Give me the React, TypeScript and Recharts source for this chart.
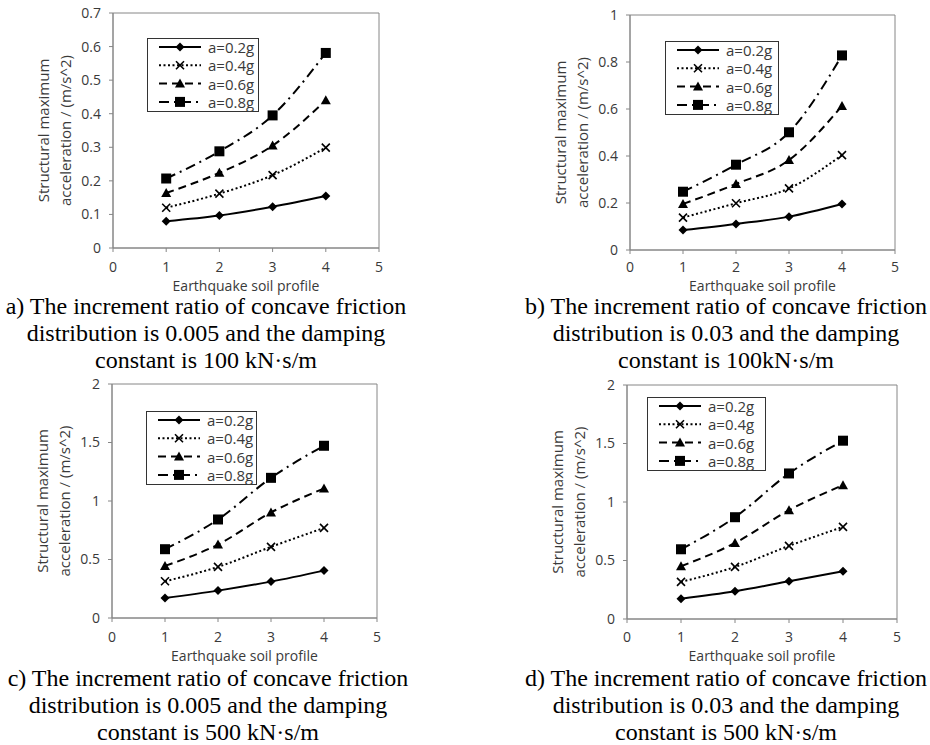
import React from 'react';
import { LineChart, Line, XAxis, YAxis, Legend, ReferenceArea } from 'recharts';

// Earthquake soil profiles (x axis)
const profiles = [1, 2, 3, 4];
const seriesNames = ['a=0.2g', 'a=0.4g', 'a=0.6g', 'a=0.8g'];

// a) ratio 0.005, damping 100 kN·s/m
const a02 = [0.08, 0.097, 0.123, 0.155];
const a04 = [0.12, 0.162, 0.217, 0.299];
const a06 = [0.164, 0.224, 0.305, 0.44];
const a08 = [0.207, 0.288, 0.395, 0.581];

// b) ratio 0.03, damping 100 kN·s/m
const b02 = [0.085, 0.111, 0.142, 0.196];
const b04 = [0.138, 0.199, 0.262, 0.404];
const b06 = [0.196, 0.281, 0.383, 0.613];
const b08 = [0.248, 0.363, 0.501, 0.828];

// c) ratio 0.005, damping 500 kN·s/m
const c02 = [0.171, 0.234, 0.311, 0.405];
const c04 = [0.314, 0.437, 0.608, 0.77];
const c06 = [0.445, 0.628, 0.902, 1.107];
const c08 = [0.588, 0.842, 1.198, 1.472];

// d) ratio 0.03, damping 500 kN·s/m
const d02 = [0.174, 0.237, 0.322, 0.408];
const d04 = [0.317, 0.445, 0.625, 0.787];
const d06 = [0.451, 0.65, 0.93, 1.144];
const d08 = [0.596, 0.87, 1.244, 1.524];

const xTicks = [0, 1, 2, 3, 4, 5];
const yTicksA = [0, 0.1, 0.2, 0.3, 0.4, 0.5, 0.6, 0.7];
const yTicksB = [0, 0.2, 0.4, 0.6, 0.8, 1];
const yTicksCD = [0, 0.5, 1, 1.5, 2];

const captionA = ['a) The increment ratio of concave friction', 'distribution is 0.005 and the damping', 'constant is 100 kN·s/m'];
const captionB = ['b) The increment ratio of concave friction', 'distribution is 0.03 and the damping', 'constant is 100kN·s/m'];
const captionC = ['c) The increment ratio of concave friction', 'distribution is 0.005 and the damping', 'constant is 500 kN·s/m'];
const captionD = ['d) The increment ratio of concave friction', 'distribution is 0.03 and the damping', 'constant is 500 kN·s/m'];

const xTitle = 'Earthquake soil profile';
const yTitle = ['Structural maximum', 'acceleration / (m/s^2)'];

const AXIS = '#868686';
const TEXT = '#3a3a3a';
const SANS = '"Open Sans", sans-serif';

const styles = [
  { shape: 'diamond', dash: undefined },
  { shape: 'cross', dash: '2 2.5' },
  { shape: 'triangle', dash: '8 5' },
  { shape: 'square', dash: '10 5 2 5' },
];

const Marker = ({ shape, cx, cy }: { shape: string; cx: number; cy: number }) => {
  if (shape === 'diamond')
    return <path d={`M${cx},${cy - 4.5}L${cx + 4.5},${cy}L${cx},${cy + 4.5}L${cx - 4.5},${cy}Z`} fill="#000" />;
  if (shape === 'cross')
    return <path d={`M${cx - 4},${cy - 4}L${cx + 4},${cy + 4}M${cx + 4},${cy - 4}L${cx - 4},${cy + 4}`} stroke="#000" strokeWidth={1.6} fill="none" />;
  if (shape === 'triangle')
    return <path d={`M${cx},${cy - 5}L${cx + 5},${cy + 4}L${cx - 5},${cy + 4}Z`} fill="#000" />;
  return <rect x={cx - 5} y={cy - 5} width={10} height={10} fill="#000" />;
};

const LegendBox = ({ width }: { width: number }) => (
  <svg width={width} height={74} style={{ display: 'block' }}>
    <rect x={0.5} y={0.5} width={width - 1} height={73} fill="#fff" stroke="#333" />
    {seriesNames.map((name, i) => {
      const y = 9 + i * 18.3;
      return (
        <g key={name}>
          <line x1={12} x2={54} y1={y} y2={y} stroke="#000" strokeWidth={2} strokeDasharray={styles[i].dash} />
          <Marker shape={styles[i].shape} cx={33} cy={y} />
          <text x={61} y={y} dominantBaseline="central" fontFamily={SANS} fontSize={15} fill={TEXT}>{name}</text>
        </g>
      );
    })}
  </svg>
);

// x title sits at a fixed height inside each 300px chart
const XTitle = (props: any) => {
  const { x, width } = props.viewBox;
  return (
    <text x={x + width / 2} y={285} textAnchor="middle" dominantBaseline="central" fontFamily={SANS} fontSize={14} fill={TEXT}>
      {xTitle}
    </text>
  );
};

const YTitle = (props: any) => {
  const { x, y, width, height } = props.viewBox;
  const px = x + width;
  const cy = y + height / 2;
  return (
    <g fontFamily={SANS} fontSize={15} fill={TEXT}>
      <text transform={`translate(${px - 70},${cy}) rotate(-90)`} textAnchor="middle" dominantBaseline="central">{yTitle[0]}</text>
      <text transform={`translate(${px - 48},${cy}) rotate(-90)`} textAnchor="middle" dominantBaseline="central">{yTitle[1]}</text>
    </g>
  );
};

interface PanelProps {
  left: number;
  top: number;
  margin: { top: number; right: number; bottom: number; left: number };
  yMax: number;
  yTicks: number[];
  series: number[][];
  legend: { left: number; top: number; width: number };
  xTickMargin: number;
}

const Panel: React.FC<PanelProps> = ({ left, top, margin, yMax, yTicks, series, legend, xTickMargin }) => {
  const data = profiles.map((x, i) => ({ x, s0: series[0][i], s1: series[1][i], s2: series[2][i], s3: series[3][i] }));
  const tick = { fill: TEXT, fontSize: 14, fontFamily: SANS };
  return (
    <div style={{ position: 'absolute', left, top }}>
      <LineChart width={465} height={300} data={data} margin={margin}>
        <ReferenceArea x1={0} x2={5} y1={0} y2={yMax} fill="none" stroke={AXIS} strokeWidth={1} />
        <XAxis
          dataKey="x"
          type="number"
          domain={[0, 5]}
          ticks={xTicks}
          interval={0}
          height={30}
          stroke={AXIS}
          tickSize={4}
          tickMargin={xTickMargin}
          tick={tick}
          label={<XTitle />}
        />
        <YAxis
          type="number"
          domain={[0, yMax]}
          ticks={yTicks}
          interval={0}
          width={40}
          stroke={AXIS}
          tickSize={4}
          tickMargin={8}
          tick={tick}
          label={<YTitle />}
        />
        {styles.map((s, i) => (
          <Line
            key={seriesNames[i]}
            name={seriesNames[i]}
            dataKey={`s${i}`}
            type="monotone"
            stroke="#000"
            strokeWidth={2}
            strokeDasharray={s.dash}
            isAnimationActive={false}
            dot={(p: any) => <Marker key={`${i}-${p.index}`} shape={s.shape} cx={p.cx} cy={p.cy} />}
          />
        ))}
        <Legend
          layout="vertical"
          align="center"
          verticalAlign="middle"
          wrapperStyle={{ left: legend.left, top: legend.top, width: legend.width, height: 74 }}
          content={() => <LegendBox width={legend.width} />}
        />
      </LineChart>
    </div>
  );
};

const Caption = ({ lines, cx, cy }: { lines: string[]; cx: number; cy: number }) => (
  <div
    style={{
      position: 'absolute',
      left: cx - 250,
      top: cy - 12,
      width: 500,
      textAlign: 'center',
      fontFamily: '"Liberation Serif", "Times New Roman", serif',
      fontSize: 24,
      color: '#000',
      whiteSpace: 'nowrap',
    }}
  >
    {lines.map((l) => (
      <div key={l} style={{ height: 24, lineHeight: '24px', marginBottom: 3 }}>{l}</div>
    ))}
  </div>
);

export default function App() {
  return (
    <div style={{ position: 'absolute', left: 0, top: 0, width: 930, height: 745, background: '#fff', overflow: 'hidden' }}>
      <Panel
        left={0}
        top={0}
        margin={{ top: 13, right: 86, bottom: 22, left: 73 }}
        yMax={0.7}
        yTicks={yTicksA}
        series={[a02, a04, a06, a08]}
        legend={{ left: 147, top: 38, width: 112 }}
        xTickMargin={10}
      />
      <Panel
        left={465}
        top={0}
        margin={{ top: 15, right: 35, bottom: 20, left: 125 }}
        yMax={1}
        yTicks={yTicksB}
        series={[b02, b04, b06, b08]}
        legend={{ left: 200, top: 41, width: 114 }}
        xTickMargin={8}
      />
      <Panel
        left={0}
        top={370}
        margin={{ top: 14, right: 88, bottom: 22, left: 72 }}
        yMax={2}
        yTicks={yTicksCD}
        series={[c02, c04, c06, c08]}
        legend={{ left: 146, top: 41, width: 111 }}
        xTickMargin={10}
      />
      <Panel
        left={465}
        top={370}
        margin={{ top: 15, right: 33, bottom: 21, left: 122 }}
        yMax={2}
        yTicks={yTicksCD}
        series={[d02, d04, d06, d08]}
        legend={{ left: 182, top: 27, width: 119 }}
        xTickMargin={9}
      />
      <Caption lines={captionA} cx={206} cy={306} />
      <Caption lines={captionB} cx={726} cy={306} />
      <Caption lines={captionC} cx={208} cy={678} />
      <Caption lines={captionD} cx={726} cy={678} />
    </div>
  );
}
